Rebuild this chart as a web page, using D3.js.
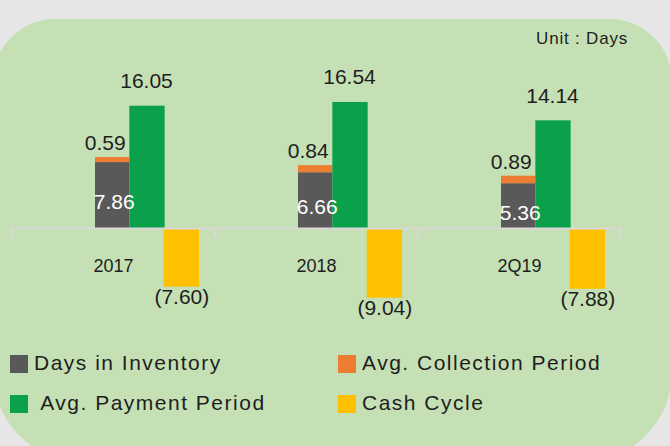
<!DOCTYPE html>
<html lang="en">
<head>
<meta charset="UTF-8">
<title>Cash Cycle</title>
<script src="https://d3js.org/d3.v7.min.js"></script>
<style>
    body { margin: 0; background: #e6e6e6; }
    svg { display: block; }
    .num { font-family: "Liberation Sans", Arial, sans-serif; font-size: 21px; letter-spacing: 0px; fill: #1e1e1e; }
    .num.inside { fill: #ffffff; }
    .cat { font-family: "Liberation Sans", Arial, sans-serif; font-size: 18px; fill: #1e1e1e; text-anchor: middle; }
    .legend text { font-family: "Liberation Sans", Arial, sans-serif; font-size: 21px; letter-spacing: 1.5px; fill: #1e1e1e; white-space: pre; }
    .unit { font-family: "Liberation Sans", Arial, sans-serif; font-size: 17px; letter-spacing: 0.8px; fill: #1e1e1e; text-anchor: end; }
</style>
</head>
<body>
<svg width="670" height="446"></svg>
<script>
// chart data
const categories = ["2017", "2018", "2Q19"];
const daysInventory = [7.86, 6.66, 5.36];
const collectionPeriod = [0.59, 0.84, 0.89];
const paymentPeriod = [16.05, 16.54, 14.14];
const cashCycle = [-7.60, -9.04, -7.88];
const seriesNames = ["Days in Inventory", "Avg. Collection Period", " Avg. Payment Period", "Cash Cycle"];
const seriesColors = ["#595959", "#ed7d31", "#0ba14b", "#ffc000"];

const svg = d3.select("svg");

// rounded green panel (runs off the left/right edges a little)
const L = -7, R = 672, T = 19, B = 462, rt = 62, rb = 90;
svg.append("path")
    .attr("d", `M${L + rt},${T} H${R - rt} A${rt},${rt} 0 0 1 ${R},${T + rt} V${B - rb}
        A${rb},${rb} 0 0 1 ${R - rb},${B} H${L + rb} A${rb},${rb} 0 0 1 ${L},${B - rb}
        V${T + rt} A${rt},${rt} 0 0 1 ${L + rt},${T} Z`)
    .attr("fill", "#c5e0b4");

// scales
const x = d3.scaleBand().domain(categories).range([12, 621]);
const slot = d3.scaleBand().domain(["stack", "pay", "cash"]).range([83, 186]);
const zero = 228.5;
const y = d3.scaleLinear().domain([-10, 20]).range([zero + 76.5, zero - 153]);   // payment & cash cycle
const ySec = d3.scaleLinear().domain([0, 10]).range([zero, zero - 84.5]);        // inventory + collection

const fmt = d3.format(".2f");
const label = v => v < 0 ? `(${fmt(-v)})` : fmt(v);

const rows = categories.map((c, i) => ({
    cat: c, inv: daysInventory[i], col: collectionPeriod[i],
    pay: paymentPeriod[i], cash: cashCycle[i]
}));

const g = svg.append("g");
const bw = slot.bandwidth();

// stacked: inventory + collection
g.selectAll(".inv").data(rows).enter().append("rect")
    .attr("x", d => x(d.cat) + slot("stack"))
    .attr("width", bw)
    .attr("y", d => ySec(d.inv))
    .attr("height", d => ySec(0) - ySec(d.inv))
    .attr("fill", seriesColors[0]);

g.selectAll(".col").data(rows).enter().append("rect")
    .attr("x", d => x(d.cat) + slot("stack"))
    .attr("width", bw)
    .attr("y", d => ySec(d.inv + d.col))
    .attr("height", d => ySec(d.inv) - ySec(d.inv + d.col))
    .attr("fill", seriesColors[1]);

g.selectAll(".pay").data(rows).enter().append("rect")
    .attr("x", d => x(d.cat) + slot("pay"))
    .attr("width", bw + 1)
    .attr("y", d => y(d.pay))
    .attr("height", d => y(0) - y(d.pay))
    .attr("fill", seriesColors[2]);

g.selectAll(".cash").data(rows).enter().append("rect")
    .attr("x", d => x(d.cat) + slot("cash"))
    .attr("width", bw + 1)
    .attr("y", y(0))
    .attr("height", d => y(d.cash) - y(0))
    .attr("fill", seriesColors[3]);

// category axis: line with ticks between categories
const axis = svg.append("g");
axis.append("line")
    .attr("x1", x.range()[0]).attr("x2", x.range()[1])
    .attr("y1", zero).attr("y2", zero)
    .attr("stroke", "#d9d9d9").attr("stroke-width", 2);
axis.selectAll(".tick").data(d3.range(categories.length + 1)).enter().append("line")
    .attr("x1", i => x.range()[0] + i * x.step())
    .attr("x2", i => x.range()[0] + i * x.step())
    .attr("y1", zero).attr("y2", zero + 8)
    .attr("stroke", "#d9d9d9").attr("stroke-width", 2);
axis.selectAll(".cat").data(categories).enter().append("text")
    .attr("class", "cat")
    .attr("x", d => x(d) + x.bandwidth() / 2)
    .attr("y", 272)
    .text(d => d);

// value labels
const lab = svg.append("g").attr("text-anchor", "middle");
lab.selectAll(".l-pay").data(rows).enter().append("text")
    .attr("class", "num")
    .attr("x", d => x(d.cat) + slot("pay") + bw / 2)
    .attr("y", d => y(d.pay) - 17.5)
    .text(d => label(d.pay));

lab.selectAll(".l-col").data(rows).enter().append("text")
    .attr("class", "num")
    .attr("x", d => x(d.cat) + slot("stack") + bw / 2 - 7)
    .attr("y", d => ySec(d.inv + d.col) - 7)
    .text(d => label(d.col));

lab.selectAll(".l-inv").data(rows).enter().append("text")
    .attr("class", "num inside")
    .attr("x", d => x(d.cat) + slot("stack") + bw / 2 + 2)
    .attr("y", d => (ySec(d.inv) + ySec(0)) / 2 + 14)
    .text(d => label(d.inv));

lab.selectAll(".l-cash").data(rows).enter().append("text")
    .attr("class", "num")
    .attr("x", d => x(d.cat) + slot("cash") + bw / 2 + 1)
    .attr("y", d => y(d.cash) + 17)
    .text(d => label(d.cash));

// unit note
svg.append("text").attr("class", "unit").attr("x", 628).attr("y", 44).text("Unit : Days");

// legend, two columns
const legendPos = [[10, 355], [338, 355], [10, 395], [338, 395]];
const legend = svg.append("g").attr("class", "legend");
const item = legend.selectAll("g").data(seriesNames).enter().append("g")
    .attr("transform", (d, i) => `translate(${legendPos[i][0]},${legendPos[i][1]})`);
item.append("rect").attr("width", 18).attr("height", 18).attr("fill", (d, i) => seriesColors[i]);
item.append("text").attr("x", 24).attr("y", 14.5).text(d => d);
</script>
</body>
</html>
